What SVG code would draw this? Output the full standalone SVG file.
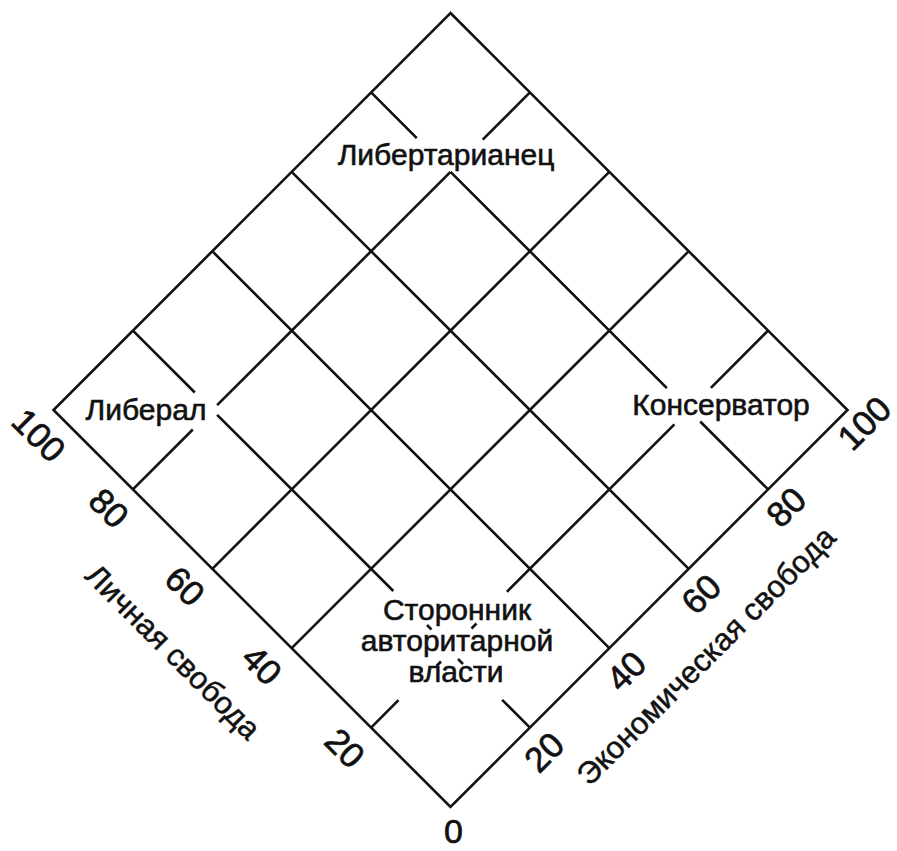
<svg xmlns="http://www.w3.org/2000/svg" width="897" height="851" viewBox="0 0 897 851">
<style>
.ln{stroke:#111;stroke-width:2.6;fill:none;stroke-linecap:butt}
.lb{font-family:"Liberation Sans",Arial,sans-serif;font-size:30px;fill:#111;stroke:#111;stroke-width:0.6;text-anchor:middle}
.num{font-family:"Liberation Sans",Arial,sans-serif;font-size:35px;fill:#111;stroke:#111;stroke-width:0.7;text-anchor:middle}
.ax{font-family:"Liberation Sans",Arial,sans-serif;font-size:31px;fill:#111;stroke:#111;stroke-width:0.5;text-anchor:middle}
</style>
<rect width="897" height="851" fill="#fff"/>
<g id="connectors">
<polygon class="ln" points="450.5,13 847.5,410 450.5,807 53.5,410"/>
<path class="ln" d="M371.1,727.6L398.5,700.2M506.9,591.8L674.4,424.3M710.9,387.8L768.1,330.6"/>
<path class="ln" d="M291.7,648.2L688.7,251.2"/>
<path class="ln" d="M212.3,568.8L609.3,171.8"/>
<path class="ln" d="M132.9,489.4L192.8,429.5M217.1,405.2L450.5,171.8M482.7,139.6L529.9,92.4"/>
<path class="ln" d="M529.9,727.6L502.1,699.8M393.3,591L217.1,414.8M194.8,392.5L132.9,330.6"/>
<path class="ln" d="M609.3,648.2L212.3,251.2"/>
<path class="ln" d="M688.7,568.8L291.7,171.8"/>
<path class="ln" d="M768.1,489.4L700.2,421.5M666.9,388.2L450.5,171.8M416.8,138.1L371.1,92.4"/>
<path class="ln" d="M427,625L431.5,629.5M471.5,628.5L476.5,623.5M436.5,666L441,661.5M458,659L463,664"/>
</g>
<g id="libertarian"><text class="lb" x="446" y="165">Либертарианец</text></g>
<g id="liberal"><text class="lb" x="146" y="420">Либерал</text></g>
<g id="conservative"><text class="lb" x="721" y="415">Консерватор</text></g>
<g id="authoritarian">
<text class="lb" x="457" y="620">Сторонник</text>
<text class="lb" x="457" y="651">авторитарной</text>
<text class="lb" x="456" y="682">власти</text>
</g>
<g id="personal-axis">
<g transform="translate(39,435) rotate(45)"><text class="num" x="0" y="12.5">100</text></g>
<g transform="translate(109,508) rotate(45)"><text class="num" x="0" y="12.5">80</text></g>
<g transform="translate(185,586) rotate(45)"><text class="num" x="0" y="12.5">60</text></g>
<g transform="translate(262,665) rotate(45)"><text class="num" x="0" y="12.5">40</text></g>
<g transform="translate(345,748) rotate(45)"><text class="num" x="0" y="12.5">20</text></g>
<g transform="translate(172,653) rotate(45)"><text class="ax" x="0" y="9">Личная свобода</text></g>
</g>
<g id="zero"><text class="num" x="453.5" y="843" style="font-size:34px">0</text></g>
<g id="economic-axis">
<g transform="translate(544,752) rotate(-45)"><text class="num" x="0" y="12.5">20</text></g>
<g transform="translate(626,671) rotate(-45)"><text class="num" x="0" y="12.5">40</text></g>
<g transform="translate(701,594) rotate(-45)"><text class="num" x="0" y="12.5">60</text></g>
<g transform="translate(786,507) rotate(-45)"><text class="num" x="0" y="12.5">80</text></g>
<g transform="translate(864,423) rotate(-45)"><text class="num" x="0" y="12.5">100</text></g>
<g transform="translate(707,657) rotate(-45)"><text class="ax" x="0" y="9">Экономическая свобода</text></g>
</g>
</svg>
